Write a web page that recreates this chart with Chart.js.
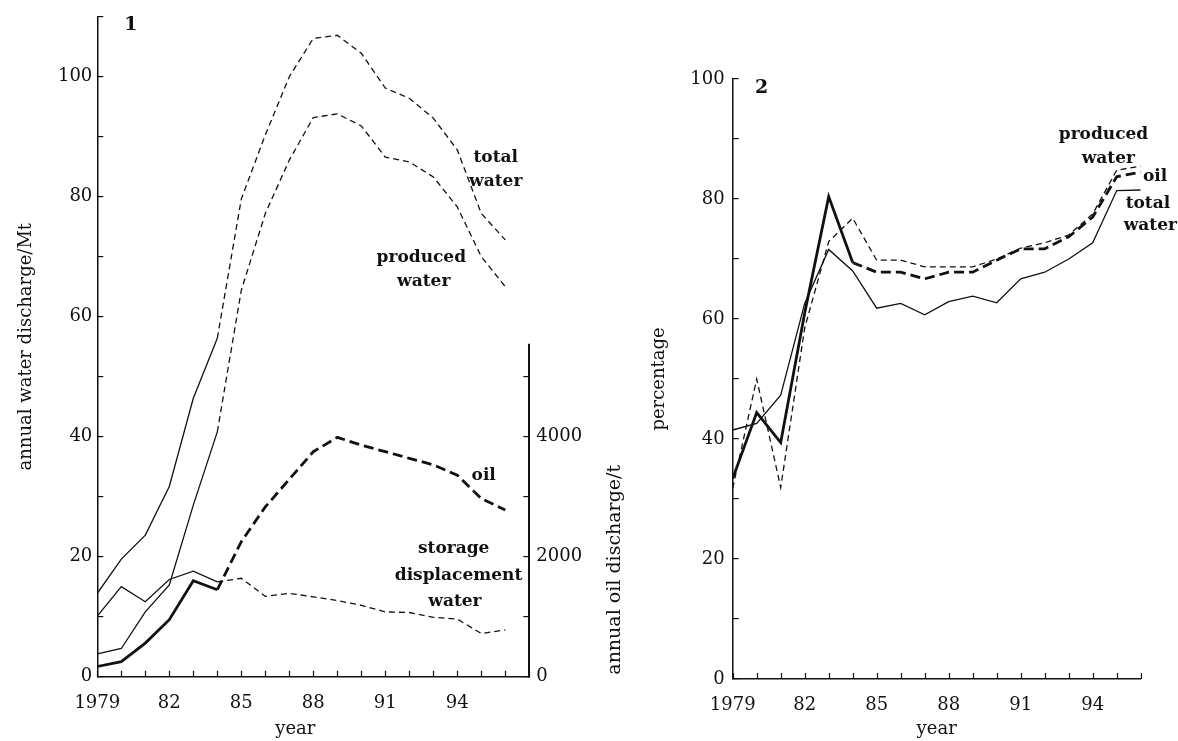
<!DOCTYPE html>
<html>
<head>
<meta charset="utf-8">
<script src="https://cdn.jsdelivr.net/npm/chart.js@4.4.0/dist/chart.umd.min.js"></script>
<style>
  body { margin: 0; background: #fff; }
  #wrap { position: relative; width: 1178px; height: 741px; }
  canvas { position: absolute; top: 0; }
  #left { left: 0; }
  #right { left: 630px; }
</style>
</head>
<body>
<div id="wrap">
  <canvas id="left" width="630" height="741"></canvas>
  <canvas id="right" width="548" height="741"></canvas>
</div>
<script>
const years = [1979, 1980, 1981, 1982, 1983, 1984, 1985, 1986, 1987, 1988,
               1989, 1990, 1991, 1992, 1993, 1994, 1995, 1996];

// panel 1 - annual discharge, water in Mt, oil in t
const totalWater    = [13.9, 19.6, 23.6, 31.7, 46.4, 56.4, 79.6, 90.3, 100.0, 106.4,
                       106.9, 103.9, 98.1, 96.4, 93.1, 87.8, 77.2, 72.8];
const producedWater = [3.8, 4.7, 10.8, 15.3, 28.6, 40.8, 64.4, 77.2, 86.1, 93.2,
                       93.8, 91.8, 86.6, 85.8, 83.3, 78.3, 70.0, 65.0];
const storageWater  = [10.1, 15.0, 12.5, 16.2, 17.6, 15.8, 16.4, 13.4, 13.9, 13.3,
                       12.7, 11.9, 10.8, 10.7, 9.9, 9.6, 7.2, 7.8];
const oilTonnes     = [170, 250, 560, 950, 1600, 1450, 2250, 2830, 3290, 3750,
                       3990, 3860, 3750, 3640, 3530, 3360, 2970, 2780];

// panel 2 - percentages
const pctTotalWater    = [41.5, 42.6, 47.3, 62.6, 71.6, 68.0, 61.8, 62.6, 60.7, 62.9,
                          63.8, 62.7, 66.7, 67.8, 70.0, 72.7, 81.4, 81.5];
const pctProducedWater = [31.8, 50.0, 31.9, 58.5, 72.9, 76.8, 69.8, 69.8, 68.7, 68.7,
                          68.7, 70.0, 71.8, 72.7, 74.0, 77.5, 84.8, 85.5];
const pctOil           = [33.4, 44.4, 39.4, 61.0, 80.4, 69.4, 67.8, 67.8, 66.7, 67.8,
                          67.8, 69.8, 71.7, 71.7, 73.7, 77.0, 83.7, 84.5];

const xTickYears = [1979, 1982, 1985, 1988, 1991, 1994];
const xTickText  = ['1979', '82', '85', '88', '91', '94'];

const ink = '#111';
const font = "'DejaVu Serif', 'Liberation Serif', serif";
const thinDash = [6, 4];
const thickDash = [10, 5];
const splitYear = 1984;   // solid before, dashed after

Chart.defaults.font.family = font;
Chart.defaults.color = ink;

function series(values, extra) {
    return Object.assign({
        data: years.map((yr, i) => ({ x: yr, y: values[i] })),
        borderColor: ink,
        borderWidth: 1.3,
        pointRadius: 0,
        tension: 0,
        fill: false
    }, extra);
}

function dashedAfterSplit(dash) {
    return { borderDash: c => c.p0.parsed.x >= splitYear ? dash : [] };
}

// fixed box size, and no extra label padding pushing the plot area around
function fixWidth(w) {
    return s => { s.width = w; s.paddingTop = 0; s.paddingBottom = 0; };
}

function xAxis(max, height, showTitle) {
    return {
        type: 'linear', min: 1979, max: max,
        afterFit: s => { s.height = height; },
        border: { color: ink, width: 1.5 },
        grid: { display: false },
        ticks: {
            stepSize: 1, autoSkip: false, maxRotation: 0, padding: 8,
            font: { size: 18 },
            callback: v => {
                const i = xTickYears.indexOf(v);
                return i < 0 ? '' : xTickText[i];
            }
        },
        title: { display: showTitle, text: 'year', font: { size: 18 }, padding: { top: 0, bottom: 1 } }
    };
}

function yAxis(max, width, padding, title, titlePad) {
    return {
        position: 'left', min: 0, max: max,
        afterFit: fixWidth(width),
        border: { color: ink, width: 1.5 },
        grid: { drawOnChartArea: false, color: ink, lineWidth: 1.2, tickLength: -6 },
        ticks: {
            stepSize: 10, padding: padding, font: { size: 18 },
            callback: v => v % 20 === 0 ? String(v) : ''
        },
        title: { display: true, text: title, font: { size: 18 }, padding: { top: titlePad, bottom: titlePad } }
    };
}

// labels on the plot, plus the little upward ticks on the year axis
function notesPlugin(notes, extra) {
    return {
        id: 'notes',
        afterDraw(chart) {
            const { ctx, scales } = chart;
            const x = scales.x;
            ctx.save();
            ctx.strokeStyle = ink;
            ctx.lineWidth = 1.2;
            ctx.beginPath();
            x.ticks.forEach(t => {
                const px = Math.round(x.getPixelForValue(t.value)) + 0.5;
                ctx.moveTo(px, x.top);
                ctx.lineTo(px, x.top - 6);
            });
            ctx.stroke();

            ctx.fillStyle = ink;
            ctx.textAlign = 'center';
            ctx.textBaseline = 'middle';
            notes.forEach(n => {
                ctx.font = n.font || ('bold 17px ' + font);
                ctx.fillText(n.text, x.getPixelForValue(n.x), scales.y.getPixelForValue(n.y));
            });
            ctx.restore();
            if (extra) extra(chart);
        }
    };
}

// ---- panel 1 ----
const oilAxisTop = 5550;

const leftNotes = [
    { text: '1', x: 1980.4, y: 108.6, font: 'bold 19px ' + font },
    { text: 'total', x: 1995.6, y: 86.6 },
    { text: 'water', x: 1995.6, y: 82.6 },
    { text: 'produced', x: 1992.5, y: 69.8 },
    { text: 'water', x: 1992.6, y: 65.9 },
    { text: 'oil', x: 1995.1, y: 33.5 },
    { text: 'storage', x: 1993.85, y: 21.3 },
    { text: 'displacement', x: 1994.05, y: 16.8 },
    { text: 'water', x: 1993.9, y: 12.6 }
];

new Chart(document.getElementById('left'), {
    type: 'line',
    data: {
        datasets: [
            series(totalWater, { segment: dashedAfterSplit(thinDash) }),
            series(producedWater, { segment: dashedAfterSplit(thinDash) }),
            series(storageWater, { segment: dashedAfterSplit(thinDash) }),
            series(oilTonnes, { yAxisID: 'y1', borderWidth: 2.8, segment: dashedAfterSplit(thickDash) })
        ]
    },
    options: {
        responsive: false,
        animation: false,
        layout: { padding: { top: 16.7, right: 0, bottom: 0, left: 0 } },
        plugins: { legend: { display: false }, tooltip: { enabled: false } },
        scales: {
            x: xAxis(1997, 64.3, false),
            y: yAxis(110, 97.3, 11, 'annual water discharge/Mt', 16),
            y1: {
                position: 'right', min: 0, max: 11000,
                afterFit: fixWidth(100.7),
                afterBuildTicks: s => { s.ticks = s.ticks.filter(t => t.value <= 5000); },
                border: { display: false },
                grid: { drawOnChartArea: false, color: ink, lineWidth: 1.2, tickLength: -6 },
                ticks: {
                    stepSize: 1000, padding: 13, font: { size: 18 },
                    callback: v => v % 2000 === 0 ? String(v) : ''
                }
            }
        }
    },
    plugins: [notesPlugin(leftNotes, chart => {
        const { ctx } = chart;
        const x = chart.scales.x;
        const y1 = chart.scales.y1;
        const px = Math.round(y1.left);
        ctx.save();
        ctx.strokeStyle = ink;
        ctx.lineWidth = 2;
        ctx.beginPath();
        ctx.moveTo(px, y1.getPixelForValue(0) + 0.75);
        ctx.lineTo(px, y1.getPixelForValue(oilAxisTop));
        ctx.stroke();
        ctx.fillStyle = ink;
        ctx.font = '18px ' + font;
        ctx.textAlign = 'center';
        ctx.textBaseline = 'middle';
        // the year title sits a little left of centre in this panel
        ctx.fillText('year', x.getPixelForValue(1987.25), x.bottom - 12);
        ctx.translate(615, y1.getPixelForValue(0) - 2);
        ctx.rotate(-Math.PI / 2);
        ctx.font = '19px ' + font;
        ctx.textAlign = 'left';
        ctx.fillText('annual oil discharge/t', 0, 0);
        ctx.restore();
    })]
});

// ---- panel 2 ----
const rightNotes = [
    { text: '2', x: 1980.2, y: 98.5, font: 'bold 19px ' + font },
    { text: 'produced', x: 1994.45, y: 90.7 },
    { text: 'water', x: 1994.65, y: 86.8 },
    { text: 'oil', x: 1996.6, y: 83.8 },
    { text: 'total', x: 1996.3, y: 79.3 },
    { text: 'water', x: 1996.4, y: 75.5 }
];

new Chart(document.getElementById('right'), {
    type: 'line',
    data: {
        datasets: [
            series(pctTotalWater, {}),
            series(pctProducedWater, { borderDash: thinDash }),
            series(pctOil, { borderWidth: 2.8, segment: dashedAfterSplit(thickDash) })
        ]
    },
    options: {
        responsive: false,
        animation: false,
        layout: { padding: { top: 79, right: 37.3, bottom: 0, left: 0 } },
        plugins: { legend: { display: false }, tooltip: { enabled: false } },
        scales: {
            x: xAxis(1996, 62, true),
            y: yAxis(100, 102.7, 14, 'percentage', 19)
        }
    },
    plugins: [notesPlugin(rightNotes)]
});
</script>
</body>
</html>
